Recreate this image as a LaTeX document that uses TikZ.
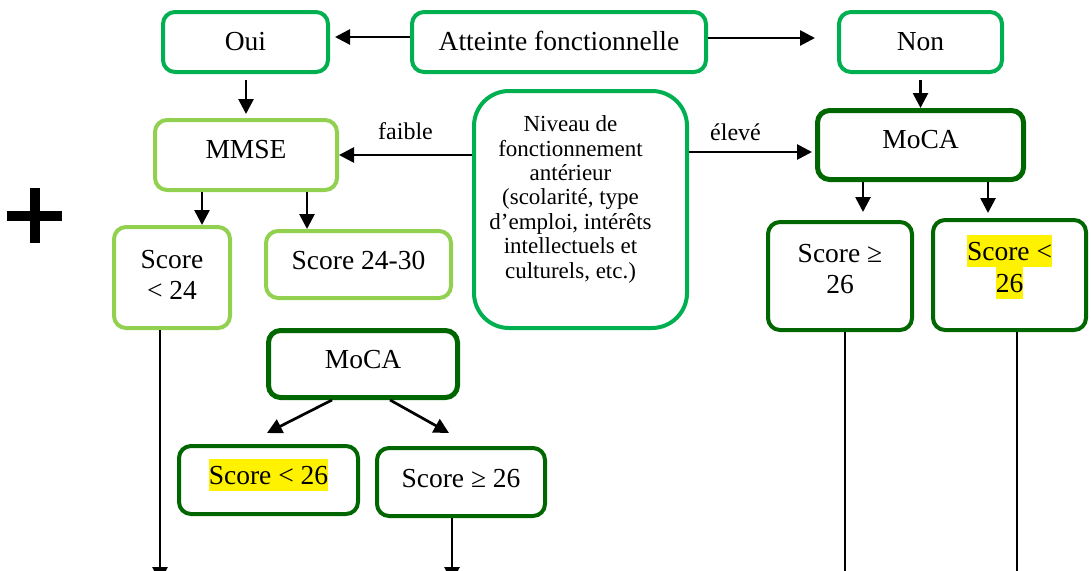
\documentclass[tikz,border=0pt]{standalone}
\usepackage{fontspec}
\setmainfont{Liberation Serif}
\usetikzlibrary{arrows.meta,calc}
\definecolor{gA}{HTML}{00B050}
\definecolor{gL}{HTML}{92D050}
\definecolor{gD}{HTML}{006600}
\newcommand\hlt[1]{{\setlength{\fboxsep}{0pt}\colorbox{yellow}{\rule[-7pt]{0pt}{32pt}#1}}}
\newcommand\mlines[3]{\vtop{\baselineskip=#1\lineskip=0pt\lineskiplimit=-1000pt\halign{\hfil##\hfil\hskip#2\cr#3\crcr}}}
\tikzset{
  box/.style={draw, rounded corners=12pt, inner sep=0pt, line width=4pt, fill=white,
    font=\fontsize{27.5}{32}\selectfont},
  arr/.style={-{Triangle[length=15pt,width=15pt]}, line width=2.7pt},
  lbl/.style={font=\fontsize{24}{28}\selectfont, inner sep=0pt, anchor=base},
}
\begin{document}
\begin{tikzpicture}[x=1pt,y=-1pt]
\useasboundingbox (0,0) rectangle (1091,570);
\clip (0,0) rectangle (1091,570);
% boxes
\node[box, draw=gA, minimum width=165pt, minimum height=60pt, text height=16pt, text depth=0pt] (oui) at (245.5,42) {Oui};
\node[box, draw=gA, minimum width=294pt, minimum height=60pt, text height=16pt, text depth=0pt] (att) at (559,42) {Atteinte fonctionnelle};
\node[box, draw=gA, minimum width=163pt, minimum height=60pt, text height=16pt, text depth=0pt] (non) at (920.5,42) {Non};
\node[box, draw=gL, minimum width=182pt, minimum height=70pt, text height=6pt, text depth=0pt] (mmse) at (246,155) {MMSE};
\node[box, draw=gA, rounded corners=35pt, minimum width=213pt, minimum height=237pt, text height=0pt, text depth=155.6pt, font=\fontsize{23}{24.4}\selectfont] (niv) at (580.5,209.5) {\mlines{24.4pt}{20pt}{Niveau de\cr fonctionnement\cr antérieur\cr (scolarité, type\cr d’emploi, intérêts\cr intellectuels et\cr culturels, etc.)}};
\node[box, draw=gD, line width=5pt, minimum width=206pt, minimum height=69pt, text height=6pt, text depth=0pt] (mocaR) at (920.5,145) {MoCA};
\node[box, draw=gL, minimum width=116pt, minimum height=101pt, text height=0pt, text depth=19pt] (sc24) at (172,277.5) {\mlines{31pt}{0pt}{Score\cr < 24}};
\node[box, draw=gL, minimum width=185pt, minimum height=67pt, text height=9pt, text depth=0pt] (sc2430) at (358.5,264.5) {Score 24-30};
\node[box, draw=gD, minimum width=144pt, minimum height=108pt, text height=0pt, text depth=28pt] (scgeR) at (840,276) {\mlines{31pt}{0pt}{Score ≥\cr 26}};
\node[box, draw=gD, minimum width=153pt, minimum height=110pt, text height=0pt, text depth=30pt] (scltR) at (1009.5,275) {\mlines{32pt}{0pt}{\hlt{Score <}\cr \hlt{26}}};
\node[box, draw=gD, line width=5pt, minimum width=189pt, minimum height=67pt, text height=8pt, text depth=0pt] (mocaM) at (363,364) {MoCA};
\node[box, draw=gD, minimum width=179pt, minimum height=68pt, text height=8pt, text depth=0pt] (scltM) at (268.5,480) {\hlt{Score < 26}};
\node[box, draw=gD, minimum width=168pt, minimum height=68pt, text height=10pt, text depth=0pt] (scgeM) at (461,482) {Score ≥ 26};
% labels
\node[lbl] (faible) at (405.5,139) {faible};
\node[lbl] (eleve) at (735.5,140) {élevé};
% coordinates
\coordinate (o1) at ($(mmse.north)+(0,-4)$);
\coordinate (e1) at ($(mocaR.west)+(-3,7)$);
\coordinate (r1) at ($(scgeR.north)+(23,-8)$);
\coordinate (r2) at ($(scltR.north)+(-21.5,-5)$);
\coordinate (m1) at ($(sc24.north)+(30,0)$);
\coordinate (m2) at ($(sc2430.north)+(-51.5,0)$);
\coordinate (b1) at ($(sc24.south)+(-12,252)$);
\coordinate (d1) at ($(mocaM.south)+(-31,0)$);
\coordinate (d2) at ($(scltM.north)+(-1.5,-11)$);
\coordinate (d3) at ($(mocaM.south)+(27,0)$);
\coordinate (d4) at ($(scgeM.north)+(-12,-13)$);
\coordinate (b2) at ($(scgeM.south)+(-9,64)$);
\coordinate (b3) at ($(scgeR.south)+(5,270)$);
\coordinate (b4) at ($(scltR.south)+(7.5,270)$);
% arrows
\draw[arr] ($(att.west)+(0,-5)$) -- ($(oui.east)+(5,-5)$);
\draw[arr] ($(att.east)+(0,-4)$) -- ($(non.west)+(-22,-4)$);
\draw[arr, shorten <=6pt] (oui.south -| o1) -- (o1);
\draw[arr] (niv.west |- mmse.east) -- (mmse.east);
\draw[arr] (niv.east |- e1) -- (e1);
\draw[arr, shorten <=6pt] (non.south) -- (mocaR.north);
\draw[arr] (mocaR.south -| r1) -- (r1);
\draw[arr] (mocaR.south -| r2) -- (r2);
\draw[arr] (mmse.south -| m1) -- (m1);
\draw[arr] (mmse.south -| m2) -- (m2);
\draw[arr] (sc24.south -| b1) -- (b1);
\draw[arr] (d1) -- (d2);
\draw[arr] (d3) -- (d4);
\draw[arr] (scgeM.south -| b2) -- (b2);
\draw[arr] (scgeR.south -| b3) -- (b3);
\draw[arr] (scltR.south -| b4) -- (b4);
% plus sign
\path[draw, line width=10pt] (7,216) -- (62,216) (34.5,188) -- (34.5,243);
\end{tikzpicture}
\end{document}
